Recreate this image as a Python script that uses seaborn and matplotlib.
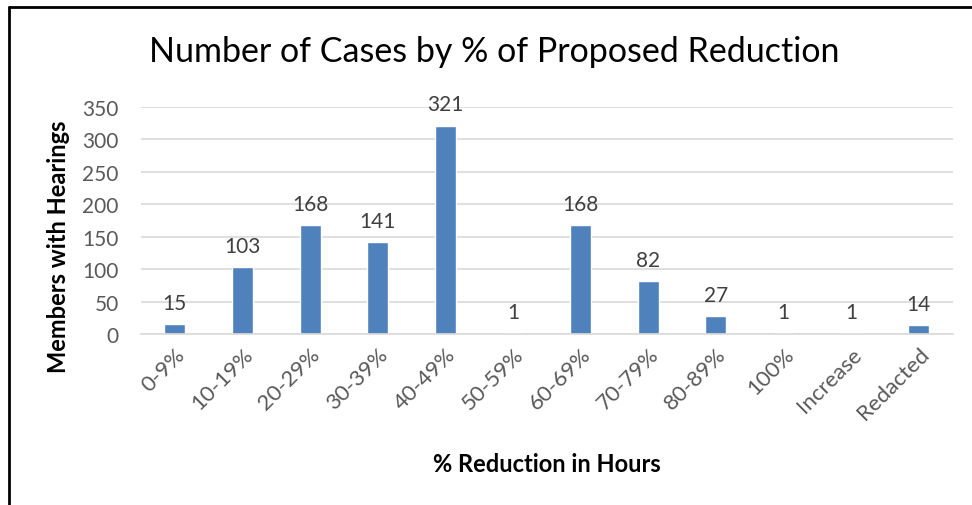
import matplotlib
matplotlib.use("Agg")
import matplotlib.pyplot as plt
import seaborn as sns
import pandas as pd
from matplotlib.lines import Line2D

# chart data
categories = ['0-9%', '10-19%', '20-29%', '30-39%', '40-49%', '50-59%',
              '60-69%', '70-79%', '80-89%', '100%', 'Increase', 'Redacted']
counts = [15, 103, 168, 141, 321, 1, 168, 82, 27, 1, 1, 14]
y_ticks = [0, 50, 100, 150, 200, 250, 300, 350]

df = pd.DataFrame({'Reduction': categories, 'Members': counts})

sns.set_theme(style='white')
plt.rcParams['font.family'] = ['Lato', 'DejaVu Sans']

fig = plt.figure(figsize=(9.72, 5.06), dpi=100)
ax = fig.add_axes([0.145, 0.338, 0.835, 0.449])

sns.barplot(data=df, x='Reduction', y='Members', color='#4F81BD',
            width=0.31, saturation=1, ax=ax)

ax.set_ylim(0, 350)
ax.set_xlim(-0.5, len(categories) - 0.5)
ax.set_yticks(y_ticks)
ax.yaxis.grid(True, color='#D9D9D9', linewidth=1.2)
ax.set_axisbelow(True)
for side in ['top', 'right', 'left']:
    ax.spines[side].set_visible(False)
ax.spines['bottom'].set_color('#D9D9D9')
ax.spines['bottom'].set_linewidth(1.2)

ax.tick_params(axis='y', labelsize=15, labelcolor='#595959', length=0, pad=16)
ax.tick_params(axis='x', labelsize=16, labelcolor='#595959', length=0, pad=7)
plt.setp(ax.get_xticklabels(), rotation=45, ha='right', rotation_mode='anchor')

# value labels
for i, v in enumerate(counts):
    ax.annotate(str(v), (i, v), xytext=(0, 8), textcoords='offset points',
                ha='center', va='bottom', fontsize=15, color='#404040')

ax.set_xlabel('% Reduction in Hours', fontsize=17, fontweight='bold',
              color='black')
ax.set_ylabel('Members with Hearings', fontsize=17, fontweight='bold',
              color='black')
ax.xaxis.set_label_coords(0.5, -0.52)
ax.yaxis.set_label_coords(-0.087, 0.39)

fig.text(0.508, 0.897, 'Number of Cases by % of Proposed Reduction',
         ha='center', va='center', fontsize=24.5, color='black')

# outer border (left and top edges visible)
fig.add_artist(Line2D([0.009, 0.009], [0, 0.984], color='black', lw=2,
                      transform=fig.transFigure))
fig.add_artist(Line2D([0.009, 1.0], [0.984, 0.984], color='black', lw=2,
                      transform=fig.transFigure))

fig.savefig('out.png', dpi=100)
